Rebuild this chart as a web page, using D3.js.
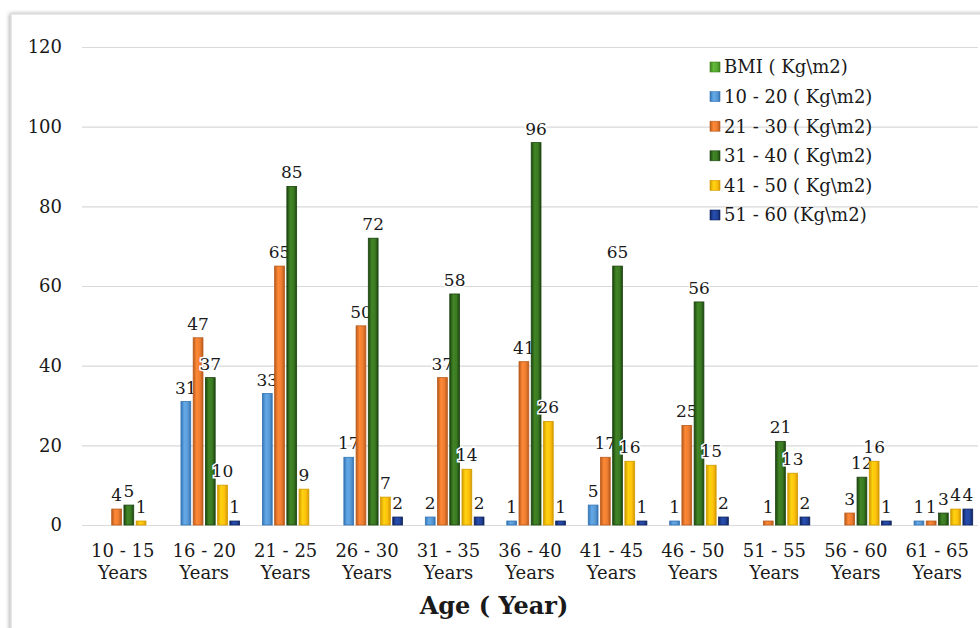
<!DOCTYPE html>
<html>
<head>
<meta charset="utf-8">
<script src="https://cdn.jsdelivr.net/npm/d3@7"></script>
<style>
  html, body { margin: 0; padding: 0; background: #ffffff; }
  svg { display: block; }
  svg text { fill: #1a1a1a; }
</style>
</head>
<body>
<svg id="chart" width="980" height="628"></svg>
<script>
// Age groups along the x axis
const ageGroups = ["10 - 15", "16 - 20", "21 - 25", "26 - 30", "31 - 35", "36 - 40",
                   "41 - 45", "46 - 50", "51 - 55", "56 - 60", "61 - 65"];

// Series names (legend order)
const seriesNames = ["BMI ( Kg\\m2)", "10 - 20 ( Kg\\m2)", "21 - 30 ( Kg\\m2)",
                     "31 - 40 ( Kg\\m2)", "41 - 50 ( Kg\\m2)", "51 - 60 (Kg\\m2)"];

// Counts per age group for each BMI band
const bmiHeader = [null, null, null, null, null, null, null, null, null, null, null];
const bmi10to20 = [0, 31, 33, 17, 2, 1, 5, 1, 0, 0, 1];
const bmi21to30 = [4, 47, 65, 50, 37, 41, 17, 25, 1, 3, 1];
const bmi31to40 = [5, 37, 85, 72, 58, 96, 65, 56, 21, 12, 3];
const bmi41to50 = [1, 10, 9, 7, 14, 26, 16, 15, 13, 16, 4];
const bmi51to60 = [0, 1, 0, 2, 2, 1, 1, 2, 2, 1, 4];

// Y axis ticks
const yTicks = [0, 20, 40, 60, 80, 100, 120];

const seriesValues = [bmiHeader, bmi10to20, bmi21to30, bmi31to40, bmi41to50, bmi51to60];

// Fill / edge colours per series
const fills = ["#5aaa34", "#5b9bd5", "#ed7d31", "#3b7a22", "#ffc10e", "#2346a0"];
const edges = ["#3c7f1f", "#3574b3", "#b85a1c", "#1c4410", "#d29a00", "#10245e"];

const FONT = "'DejaVu Serif', serif";

const svg = d3.select("#chart");

// Outer frame with a soft shadow
const defs = svg.append("defs");
const shadow = defs.append("filter").attr("id", "frameShadow")
  .attr("x", "-5%").attr("y", "-5%").attr("width", "110%").attr("height", "110%");
shadow.append("feGaussianBlur").attr("in", "SourceAlpha").attr("stdDeviation", 2);
shadow.append("feOffset").attr("dx", -1).attr("dy", 0).attr("result", "ob");
shadow.append("feComponentTransfer").append("feFuncA").attr("type", "linear").attr("slope", 0.35);
const merge = shadow.append("feMerge");
merge.append("feMergeNode");
merge.append("feMergeNode").attr("in", "SourceGraphic");

svg.append("rect")
  .attr("x", 11).attr("y", 14).attr("width", 1000).attr("height", 700)
  .attr("fill", "#ffffff").attr("stroke", "#d4d4d4").attr("stroke-width", 1)
  .attr("filter", "url(#frameShadow)");

// Horizontal shading gradients that give the bars an embossed look
fills.forEach((c, i) => {
  const g = defs.append("linearGradient").attr("id", "grad" + i)
    .attr("x1", "0%").attr("x2", "100%").attr("y1", "0%").attr("y2", "0%");
  const base = d3.color(c);
  g.append("stop").attr("offset", "0%").attr("stop-color", d3.color(edges[i]).formatHex());
  g.append("stop").attr("offset", "35%").attr("stop-color", base.brighter(0.25).formatHex());
  g.append("stop").attr("offset", "70%").attr("stop-color", base.formatHex());
  g.append("stop").attr("offset", "100%").attr("stop-color", d3.color(edges[i]).formatHex());
});

const plotLeft = 82, plotRight = 978, plotTop = 47, plotBottom = 525;

const x0 = d3.scaleBand().domain(ageGroups).range([plotLeft, plotRight])
  .paddingInner(0.1).paddingOuter(0.05);
const x1 = d3.scaleBand().domain(d3.range(seriesNames.length)).range([0, x0.bandwidth()])
  .paddingInner(0.2).paddingOuter(0.1);
const y = d3.scaleLinear().domain([0, 120]).range([plotBottom, plotTop]);

// Gridlines and y tick labels
const yAxis = d3.axisLeft(y).tickValues(yTicks).tickSize(-(plotRight - plotLeft)).tickPadding(20);
const gy = svg.append("g").attr("transform", `translate(${plotLeft},0)`).call(yAxis)
  .attr("font-family", FONT);
gy.select(".domain").remove();
gy.selectAll(".tick line").attr("stroke", "#d9d9d9").attr("stroke-width", 1.2);
gy.selectAll(".tick text")
  .attr("font-size", 18).attr("fill", "#1a1a1a");

// X axis labels (two lines)
const gx = svg.append("g").attr("transform", `translate(0,${plotBottom})`)
  .call(d3.axisBottom(x0).tickSize(0).tickPadding(0))
  .attr("font-family", FONT);
gx.select(".domain").remove();
gx.selectAll(".tick text").each(function (d) {
  const t = d3.select(this);
  t.text(null).attr("y", 0).attr("dy", null)
    .attr("font-size", 18).attr("fill", "#1a1a1a");
  t.append("tspan").attr("x", 0).attr("y", 32).text(d);
  t.append("tspan").attr("x", 0).attr("y", 54).text("Years");
});

// Bars
const groups = svg.append("g").attr("font-family", FONT).selectAll("g.group")
  .data(ageGroups)
  .join("g").attr("class", "group")
  .attr("transform", d => `translate(${x0(d)},0)`);

const cells = groups.selectAll("g.cell")
  .data((d, gi) => seriesValues.map((arr, si) => ({ si, v: arr[gi] })))
  .join("g").attr("class", "cell");

cells.filter(d => d.v != null && d.v > 0)
  .append("rect")
  .attr("x", d => x1(d.si))
  .attr("width", x1.bandwidth())
  .attr("y", d => y(d.v))
  .attr("height", d => y(0) - y(d.v))
  .attr("fill", d => `url(#grad${d.si})`)
  .attr("stroke", d => edges[d.si])
  .attr("stroke-width", 0.8);

// Data labels
cells.filter(d => d.v != null && d.v > 0)
  .append("text")
  .attr("x", d => x1(d.si) + x1.bandwidth() / 2)
  .attr("y", d => y(d.v) - 8)
  .attr("text-anchor", "middle")
  .attr("font-size", 17)
  .attr("stroke", "#ffffff").attr("stroke-width", 3).attr("paint-order", "stroke")
  .text(d => d.v);

// Axis title
svg.append("text")
  .attr("x", 494).attr("y", 614)
  .attr("text-anchor", "middle")
  .attr("font-family", FONT)
  .attr("font-size", 24).attr("font-weight", "bold")
  .text("Age ( Year)");

// Legend
const legend = svg.append("g").attr("font-family", FONT).attr("transform", "translate(710,67)");
const items = legend.selectAll("g").data(seriesNames).join("g")
  .attr("transform", (d, i) => `translate(0,${i * 29.6})`);
items.append("rect")
  .attr("x", 0).attr("y", -5).attr("width", 10).attr("height", 10)
  .attr("fill", (d, i) => `url(#grad${i})`)
  .attr("stroke", (d, i) => edges[i]).attr("stroke-width", 0.6);
items.append("text")
  .attr("x", 14).attr("y", 0).attr("dy", "0.35em")
  .attr("font-size", 18)
  .text(d => d);
</script>
</body>
</html>
